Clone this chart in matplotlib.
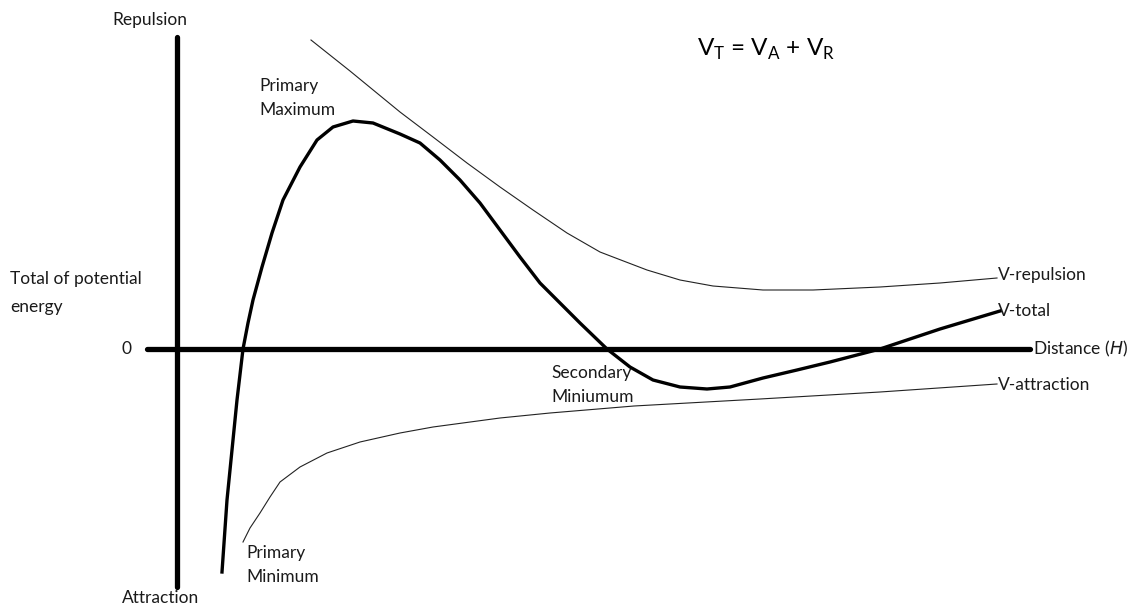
import matplotlib
matplotlib.use("Agg")
import matplotlib.pyplot as plt

plt.rcParams['font.family'] = ['Lato', 'DejaVu Sans']
plt.rcParams['mathtext.fontset'] = 'custom'
plt.rcParams['mathtext.rm'] = 'Lato'

# distance from the vertical axis, energy relative to the zero line
total_h = [45, 50, 55, 60, 66, 71, 76, 85, 95, 106, 123, 140, 156, 176, 196, 223, 243, 263, 283,
           303, 323, 343, 363, 383, 403, 430, 453, 476, 503, 530, 553, 586, 620, 653, 703, 763, 823]
total_v = [-223, -151, -101, -51, 0, 26, 49, 82, 116, 149, 182, 209, 222, 228, 226, 215, 206, 189, 169,
           146, 119, 92, 66, 46, 26, 0, -18, -31, -38, -40, -38, -29, -21, -13, 0, 20, 38]

rep_h = [134, 173, 223, 256, 290, 323, 356, 390, 423, 436, 470, 503, 536, 586, 636, 703, 763, 820]
rep_v = [309, 278, 237, 212, 186, 162, 139, 116, 97, 92, 79, 69, 63, 59, 59, 62, 66, 71]

att_h = [66, 73, 83, 93, 103, 123, 150, 183, 223, 256, 323, 373, 457, 583, 703, 820]
att_v = [-193, -179, -164, -148, -133, -118, -104, -93, -84, -78, -69, -64, -57, -50, -43, -35]

axis_h = [-30, 853]
axis_v = [-238, 312]

fig = plt.figure(figsize=(11.33, 6.10), dpi=100)
ax = fig.add_axes([0, 0, 1, 1])
ax.set_xlim(-177, 956)
ax.set_ylim(-261, 349)
ax.axis('off')

# axes of the sketch
ax.plot(axis_h, [0, 0], color='black', lw=3.8, solid_capstyle='round')
ax.plot([0, 0], axis_v, color='black', lw=3.8, solid_capstyle='round')

ax.plot(rep_h, rep_v, color='#222222', lw=0.8, solid_joinstyle='round')
ax.plot(att_h, att_v, color='#222222', lw=0.8, solid_joinstyle='round')
ax.plot(total_h, total_v, color='black', lw=2.4, solid_joinstyle='round')

fs = 12.5
tc = '#1a1a1a'
ax.text(-27, 329, 'Repulsion', ha='center', va='center', fontsize=fs, color=tc)
ax.text(-16, -249, 'Attraction', ha='center', va='center', fontsize=fs, color=tc)
ax.text(-167, 56, 'Total of potential\nenergy', ha='left', va='center', fontsize=fs,
        color=tc, linespacing=1.95)
ax.text(-50, 0, '0', ha='center', va='center', fontsize=fs, color=tc)
ax.text(82, 251, 'Primary\nMaximum', ha='left', va='center', fontsize=fs, color=tc, linespacing=1.6)
ax.text(374, -36, 'Secondary\nMiniumum', ha='left', va='center', fontsize=fs, color=tc, linespacing=1.55)
ax.text(69, -216, 'Primary\nMinimum', ha='left', va='center', fontsize=fs, color=tc, linespacing=1.6)
ax.text(821, 74, 'V-repulsion', ha='left', va='center', fontsize=fs, color=tc)
ax.text(821, 38, 'V-total', ha='left', va='center', fontsize=fs, color=tc)
ax.text(856, 0, 'Distance ($\\mathit{H}$)', ha='left', va='center', fontsize=fs, color=tc)
ax.text(821, -36, 'V-attraction', ha='left', va='center', fontsize=fs, color=tc)
ax.text(520, 300, 'V$_\\mathregular{T}$ = V$_\\mathregular{A}$ + V$_\\mathregular{R}$',
        ha='left', va='center', fontsize=17.5, color='black')

fig.savefig('out.png', dpi=100)
